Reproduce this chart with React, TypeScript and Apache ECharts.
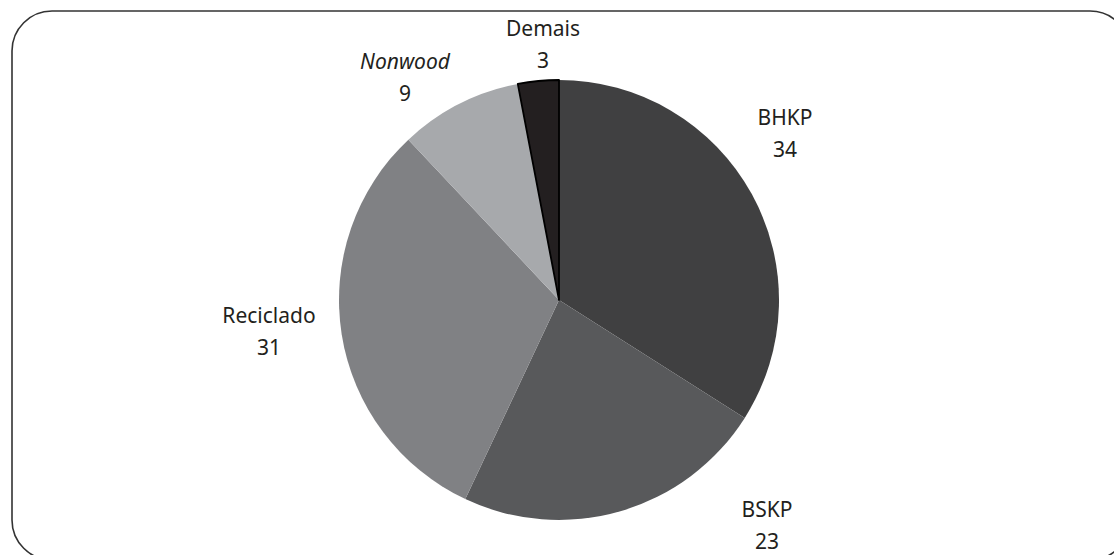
import React, { useEffect, useRef } from "react";
import * as echarts from "echarts";

const categories = ["BHKP", "BSKP", "Reciclado", "Nonwood", "Demais"];
const values = [34, 23, 31, 9, 3];
const colors = ["#404041", "#58595b", "#808184", "#a7a9ac", "#231f20"];
const italicNames = ["Nonwood"];
// label block centres (px)
const labelCentres: [number, number][] = [
  [785, 133],
  [767, 525],
  [269, 331],
  [405, 77],
  [543, 44],
];

export default function App() {
  const ref = useRef<HTMLDivElement>(null);
  useEffect(() => {
    if (!ref.current) return;
    const chart = echarts.init(ref.current, null, { renderer: "svg" });
    const font = "'Noto Sans', 'Open Sans', sans-serif";
    chart.setOption({
      animation: false,
      backgroundColor: "#ffffff",
      graphic: [
        {
          type: "rect",
          shape: { x: 12, y: 11, width: 1118, height: 549, r: 40 },
          style: { fill: "none", stroke: "#333333", lineWidth: 1.6 },
          silent: true,
        },
      ],
      series: [
        {
          type: "pie",
          center: [559, 300],
          radius: 220,
          startAngle: 90,
          clockwise: true,
          data: categories.map((c, i) => ({
            name: c,
            value: values[i],
            itemStyle: {
              color: colors[i],
              borderColor: c === "Demais" ? "#000000" : colors[i],
              borderWidth: c === "Demais" ? 1.8 : 0,
            },
          })),
          label: {
            show: true,
            position: "outside",
            fontFamily: font,
            fontSize: 21,
            color: "#231f20",
            lineHeight: 32,
            align: "center",
            formatter: (p: any) =>
              italicNames.includes(p.name)
                ? `{i|${p.name}}\n{v|${p.value}}`
                : `${p.name}\n${p.value}`,
            rich: {
              i: {
                fontStyle: "italic",
                fontFamily: font,
                fontSize: 21,
                color: "#231f20",
                lineHeight: 32,
                align: "center",
              },
              v: {
                fontFamily: font,
                fontSize: 21,
                color: "#231f20",
                lineHeight: 32,
                align: "center",
              },
            },
          },
          labelLine: { show: false },
          labelLayout: (params: any) => {
            const [cx, cy] = labelCentres[params.dataIndex];
            return {
              x: cx,
              y: cy,
              align: "center",
              verticalAlign: "middle",
            };
          },
        },
      ],
    });
    return () => chart.dispose();
  }, []);
  return (
    <div
      ref={ref}
      style={{ position: "absolute", left: 0, top: 0, width: 1114, height: 555 }}
    />
  );
}
